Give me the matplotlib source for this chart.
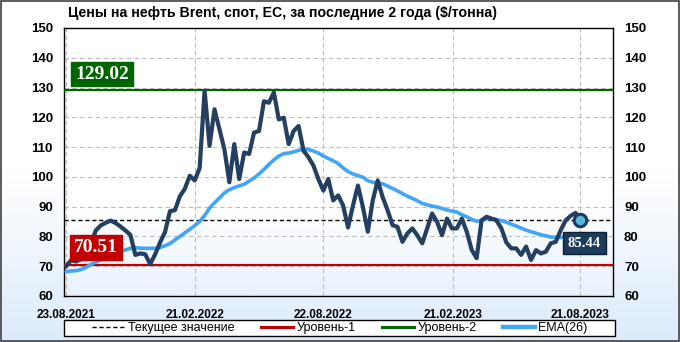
import numpy as np
import pandas as pd
import matplotlib
matplotlib.use("Agg")
import matplotlib.pyplot as plt
import matplotlib.dates as mdates
import matplotlib.transforms as mtransforms
from matplotlib.patches import Rectangle
from matplotlib.lines import Line2D

# weekly Brent spot prices, $/tonne
price = [70.0, 72.0, 71.6, 72.3, 73.0, 77.5, 82.0, 83.7, 84.6, 85.3,
         84.5, 83.3, 82.0, 80.5, 73.8, 74.3, 74.0, 70.7, 74.0, 78.0,
         81.5, 88.5, 88.8, 93.5, 96.0, 100.4, 98.8, 103.0, 129.0, 110.4,
         122.7, 116.0, 109.3, 98.2, 111.0, 99.3, 108.2, 107.7, 114.9, 115.4,
         125.4, 124.9, 128.4, 119.3, 119.9, 111.0, 115.4, 117.1, 108.8, 106.6,
         103.8, 99.3, 95.4, 99.3, 92.1, 93.8, 90.4, 83.0, 90.4, 97.1,
         89.9, 81.6, 92.1, 98.8, 93.2, 88.8, 83.8, 83.2, 78.2, 81.0,
         82.7, 80.4, 77.7, 82.7, 87.7, 84.9, 80.4, 86.0, 82.7, 82.7,
         86.0, 81.6, 75.5, 72.7, 85.4, 86.6, 86.0, 85.4, 82.7, 78.0,
         76.0, 76.0, 73.8, 76.6, 72.1, 75.4, 74.3, 74.9, 77.7, 78.2,
         82.1, 85.4, 86.9, 87.9, 85.44]

ema26 = [68.2, 68.4, 68.5, 68.9, 69.6, 70.6, 71.4, 72.1, 73.0, 73.8,
         74.5, 75.1, 75.5, 76.0, 76.2, 76.1, 76.0, 76.0, 76.0, 76.3,
         76.9, 77.6, 78.8, 80.0, 81.2, 82.4, 83.6, 85.0, 87.0, 89.5,
         91.3, 92.9, 94.6, 95.7, 96.4, 97.0, 97.5, 98.6, 99.6, 101.0,
         102.5, 104.2, 105.7, 107.0, 107.8, 108.0, 108.4, 108.9, 109.3, 109.2,
         108.7, 108.0, 107.0, 106.2, 105.4, 104.5, 103.0, 101.8, 101.0, 100.4,
         99.9, 98.7, 98.2, 97.9, 97.7, 96.9, 96.1, 95.3, 94.4, 93.5,
         92.8, 92.0, 91.1, 90.6, 90.2, 89.9, 89.4, 88.9, 88.5, 88.2,
         87.3, 86.6, 85.7, 85.1, 85.4, 85.9, 86.0, 85.7, 85.3, 84.8,
         84.1, 83.5, 82.8, 82.1, 81.6, 81.1, 80.6, 80.2, 79.8, 79.7,
         79.7, 79.9, 80.2, 80.6, 81.0]

dates = pd.date_range("2021-08-23", periods=len(price), freq="7D")
current = 85.44
level1 = 70.51
level2 = 129.02
tick_dates = pd.to_datetime(["2021-08-23", "2022-02-21", "2022-08-22",
                             "2023-02-21", "2023-08-21"])
title = "Цены на нефть Brent, спот, ЕС, за последние 2 года ($/тонна)"

navy = "#243F60"
ema_col = "#42A5F5"
red = "#C00000"
green = "#006400"

fig = plt.figure(figsize=(6.8, 3.42), dpi=100)

# figure background gradient
bg = fig.add_axes([0, 0, 1, 1], zorder=-10)
grad = np.linspace(0, 1, 256).reshape(-1, 1)
cm_fig = matplotlib.colors.LinearSegmentedColormap.from_list("f", ["#FFFFFF", "#FFFFFF", "#DCEBFB"])
bg.imshow(grad, aspect="auto", cmap=cm_fig, extent=[0, 1, 0, 1], origin="upper")
bg.axis("off")
fig.patches.append(Rectangle((0.001, 0.002), 0.997, 0.995, transform=fig.transFigure,
                             fill=False, edgecolor="#404040", lw=1.2))

ax = fig.add_axes([64 / 680, 1 - 296 / 342, 549 / 680, 268 / 342])
xmin, xmax = pd.Timestamp("2021-08-20"), pd.Timestamp("2023-10-06")

cm_ax = matplotlib.colors.LinearSegmentedColormap.from_list("a", ["#FFFFFF", "#FFFFFF", "#FFFFFF", "#E8F2FC"])
ax.imshow(grad, aspect="auto", cmap=cm_ax, origin="upper",
          extent=[mdates.date2num(xmin), mdates.date2num(xmax), 60, 150], zorder=0)
ax.set_xlim(xmin, xmax)
ax.set_ylim(60, 150)

ax.set_yticks(np.arange(60, 151, 10))
ax.set_xticks(tick_dates)
ax.xaxis.set_major_formatter(mdates.DateFormatter("%d.%m.%Y"))
ax.grid(True, color="#BDBDBD", linestyle=(0, (4, 3)), lw=0.8, zorder=1)
ax.tick_params(length=0, labelright=True)
ax.tick_params(axis="y", pad=8)
ax.tick_params(axis="x", pad=9)
for lab in ax.get_yticklabels():
    lab.set_fontfamily("Liberation Sans")
    lab.set_fontweight("bold")
    lab.set_fontsize(9.5)
for lab in ax.get_xticklabels():
    lab.set_fontfamily("Liberation Sans")
    lab.set_fontweight("bold")
    lab.set_fontsize(8.5)
for s in ax.spines.values():
    s.set_color("black")
    s.set_linewidth(1.0)

ax.axhline(current, color="black", ls=(0, (3, 2)), lw=1.0, zorder=3)
ax.axhline(level1, color=red, lw=1.6, zorder=3)
ax.axhline(level2, color=green, lw=1.6, zorder=3)
ax.plot(dates, ema26, color=ema_col, lw=2.6, zorder=4, solid_capstyle="round")
ax.plot(dates, price, color=navy, lw=3.0, zorder=5, solid_joinstyle="round")
ax.plot(dates[-1], price[-1], "o", ms=9, mfc="#5BB8D8", mec="#1F3864", mew=2.2, zorder=6)

trans = mtransforms.blended_transform_factory(ax.transAxes, ax.transData)
ax.text(0.02, level2 + 5.5, f"{level2:.2f}", transform=trans, ha="left", va="center",
        color="white", fontsize=14, fontweight="bold", family="Liberation Serif",
        bbox=dict(boxstyle="square,pad=0.2", fc=green, ec=green), zorder=7)
ax.text(0.018, level1 + 5.8, f"{level1:.2f}", transform=trans, ha="left", va="center",
        color="white", fontsize=14, fontweight="bold", family="Liberation Serif",
        bbox=dict(boxstyle="square,pad=0.2", fc=red, ec=red), zorder=7)
ax.annotate(f"{current:.2f}", xy=(dates[-1], current), xytext=(4, -23),
            textcoords="offset pixels", ha="center", va="center",
            color="white", fontsize=10.5, fontweight="bold", family="Liberation Serif",
            bbox=dict(boxstyle="square,pad=0.32", fc="#1F3B5C", ec="#0D1F33", lw=1),
            zorder=7)

fig.text(68 / 680, 1 - 13 / 342, title, ha="left", va="center", fontsize=10.2,
         fontweight="bold", family="Liberation Sans")

# legend
handles = [Line2D([], [], color="black", ls=(0, (3, 2)), lw=1.0),
           Line2D([], [], color=red, lw=2.2),
           Line2D([], [], color=green, lw=2.2),
           Line2D([], [], color=ema_col, lw=3.2)]
labels = ["Текущее значение", "Уровень-1", "Уровень-2", "EMA(26)"]
fig.patches.append(Rectangle((64 / 680, 1 - 336 / 342), 551 / 680, 16 / 342,
                             transform=fig.transFigure, fc="white", ec="black", lw=1.0))
leg = fig.legend(handles, labels, loc="center", bbox_to_anchor=(340 / 680, 1 - 328 / 342),
                 ncol=4, frameon=False, prop={"family": "Liberation Sans", "size": 9},
                 handlelength=2.6, handletextpad=0.25, columnspacing=2.1)

fig.savefig("out.png", dpi=100)
